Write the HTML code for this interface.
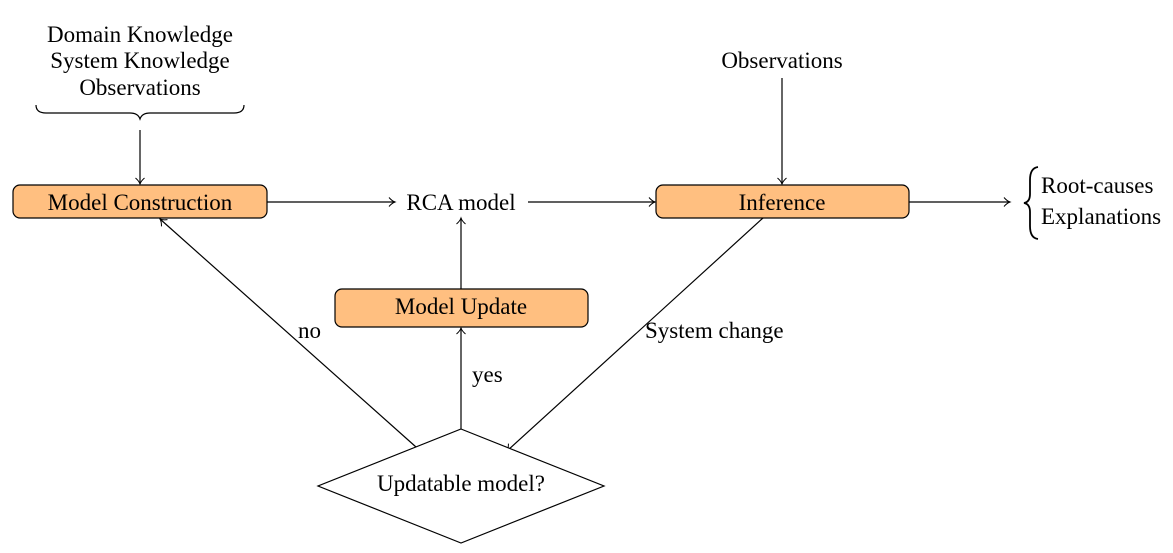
<!DOCTYPE html>
<html><head><style>
html,body{margin:0;padding:0;background:#fff;}
svg{display:block;}
text{font-family:"Liberation Serif",serif;font-size:23px;fill:#000;}
</style></head><body>
<svg width="1173" height="553" viewBox="0 0 1173 553" xmlns="http://www.w3.org/2000/svg">
<defs>
<marker id="a" markerWidth="12" markerHeight="12" refX="9" refY="6" orient="auto" markerUnits="userSpaceOnUse">
<path d="M3,1.5 Q6,5 9,6 Q6,7 3,10.5" fill="none" stroke="#000" stroke-width="1"/>
</marker>
</defs>
<g stroke="#000" stroke-width="1.2" fill="none">
<path d="M36,105 Q36,113 46,113 L130,113 Q138,113 140,119 Q142,113 150,113 L234,113 Q244,113 244,105"/>
<line x1="140" y1="130" x2="140" y2="184" marker-end="url(#a)"/>
<line x1="267" y1="202" x2="395" y2="202" marker-end="url(#a)"/>
<line x1="528" y1="202" x2="655" y2="202" marker-end="url(#a)"/>
<line x1="782" y1="78" x2="782" y2="184" marker-end="url(#a)"/>
<line x1="909" y1="202" x2="1010" y2="202" marker-end="url(#a)"/>
<line x1="461" y1="289" x2="461" y2="218" marker-end="url(#a)"/>
<line x1="461" y1="429" x2="461" y2="328" marker-end="url(#a)"/>
<line x1="416" y1="447" x2="160" y2="219" marker-end="url(#a)"/>
<line x1="763" y1="218" x2="507" y2="451" marker-end="url(#a)"/>
</g>
<path d="M1038,167 Q1030,168 1030,180 L1030,194 Q1030,202 1024,203 Q1030,204 1030,212 L1030,226 Q1030,238 1038,239" fill="none" stroke="#000" stroke-width="1.8"/>
<g stroke="#000" stroke-width="1.2" fill="#FFBF80">
<rect x="13" y="185" width="254" height="33" rx="7"/>
<rect x="656" y="185" width="253" height="33" rx="7"/>
<rect x="335" y="289" width="253" height="38" rx="7"/>
</g>
<polygon points="461,429 604,486 461,543 318,486" fill="#fff" stroke="#000" stroke-width="1.2"/>
<g text-anchor="middle">
<text x="140" y="42">Domain Knowledge</text>
<text x="140" y="68">System Knowledge</text>
<text x="140" y="95">Observations</text>
<text x="782" y="68">Observations</text>
<text x="140" y="210">Model Construction</text>
<text x="461" y="210">RCA model</text>
<text x="782" y="210">Inference</text>
<text x="461" y="314">Model Update</text>
<text x="461" y="491">Updatable model?</text>
</g>
<text x="1041" y="193">Root-causes</text>
<text x="1041" y="224">Explanations</text>
<text x="472" y="382">yes</text>
<text x="298" y="338">no</text>
<text x="645" y="338">System change</text>
</svg>
</body></html>
